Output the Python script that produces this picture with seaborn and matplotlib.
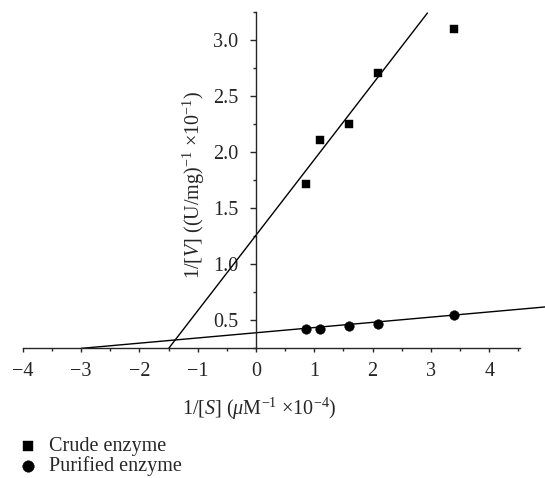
import numpy as np
import matplotlib
matplotlib.use("Agg")
import matplotlib.pyplot as plt
from matplotlib.ticker import MultipleLocator, FormatStrFormatter
import seaborn as sns
import pandas as pd

# ---- data ----
inv_S = [0.85, 1.10, 1.60, 2.10, 3.40]
crude_inv_V = [1.72, 2.11, 2.25, 2.71, 3.10]
purified_inv_V = [0.425, 0.425, 0.445, 0.465, 0.545]

crude_slope, crude_intercept = 0.675, 1.26
crude_fit_x = [-1.496, 2.94]
purified_slope, purified_intercept = 0.0465, 0.389
purified_fit_x = [-3.0, 4.96]

x_ticks = [-4, -3, -2, -1, 0, 1, 2, 3, 4]
y_ticks = [0.5, 1.0, 1.5, 2.0, 2.5, 3.0]
series_labels = ["Crude enzyme", "Purified enzyme"]

sns.set_style("ticks")
plt.rcParams["font.family"] = ["Liberation Serif", "DejaVu Serif"]
plt.rcParams["mathtext.fontset"] = "custom"
plt.rcParams["mathtext.rm"] = "Liberation Serif"
plt.rcParams["mathtext.it"] = "Liberation Serif:italic"
plt.rcParams["mathtext.bf"] = "Liberation Serif:bold"

fig = plt.figure(figsize=(5.45, 4.78), dpi=100)
ax = fig.add_axes([0.0417, 0.2713, 0.9116, 0.7027])

df_c = pd.DataFrame({"x": inv_S, "y": crude_inv_V})
df_p = pd.DataFrame({"x": inv_S, "y": purified_inv_V})

cx = np.array(crude_fit_x)
px = np.array(purified_fit_x)
fit_c = pd.DataFrame({"x": cx, "y": crude_intercept + crude_slope * cx})
fit_p = pd.DataFrame({"x": px, "y": purified_intercept + purified_slope * px})

sns.lineplot(data=fit_c, x="x", y="y", ax=ax, color="black", linewidth=1.0, sort=False)
sns.lineplot(data=fit_p, x="x", y="y", ax=ax, color="black", linewidth=1.0, sort=False)
for ln in ax.lines:
    ln.set_clip_on(False)

sns.scatterplot(data=df_c, x="x", y="y", ax=ax, marker="s", s=40, color="black",
                edgecolor="black", linewidth=0.3, label=series_labels[0], zorder=5, clip_on=False)
sns.scatterplot(data=df_p, x="x", y="y", ax=ax, marker="o", s=48, color="black",
                edgecolor="black", linewidth=0.3, label=series_labels[1], zorder=5, clip_on=False)

ax.set_xlim(-4, 4.52)
ax.set_ylim(0.25, 3.25)

ax.spines["top"].set_visible(False)
ax.spines["right"].set_visible(False)
ax.spines["left"].set_position(("data", 0))
for sp in ("left", "bottom"):
    ax.spines[sp].set_linewidth(1.0)

FS = 14.5
ax.set_xticks(x_ticks)
ax.xaxis.set_minor_locator(MultipleLocator(0.5))
ax.set_yticks(y_ticks)
ax.yaxis.set_minor_locator(MultipleLocator(0.25))
ax.yaxis.set_major_formatter(FormatStrFormatter("%.1f"))

ax.tick_params(axis="x", which="major", direction="out", length=3.0, width=1.0,
               labelsize=FS, pad=6.5)
ax.tick_params(axis="x", which="minor", direction="out", length=2.5, width=1.0)
ax.tick_params(axis="y", which="major", direction="out", length=4.3, width=1.0,
               labelsize=FS, pad=8.5)
ax.tick_params(axis="y", which="minor", direction="out", length=2.2, width=1.0)

ax.set_xlabel(r"1/[$S$] ($\mu$M$^{-1}$ ×10$^{-4}$)", fontsize=FS)
ax.xaxis.set_label_coords(0.476, -0.14)
ax.set_ylabel(r"1/[$V$] ((U/mg)$^{-1}$ ×10$^{-1}$)", fontsize=FS)
ax.yaxis.set_label_coords(0.37, 0.485)

ax.legend(loc="upper left", bbox_to_anchor=(0.015, 0.106), bbox_transform=fig.transFigure,
          frameon=False, fontsize=FS, handletextpad=0.55, labelspacing=0.0,
          borderpad=0, handlelength=1.0, markerscale=1.2)

fig.savefig("out.png", dpi=100)
